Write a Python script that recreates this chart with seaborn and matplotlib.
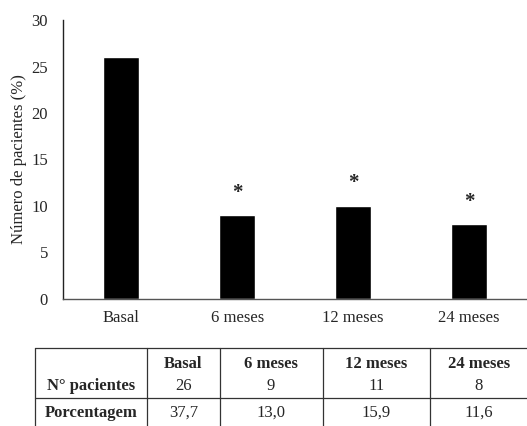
import pandas as pd
import numpy as np
import matplotlib
matplotlib.use('Agg')
import matplotlib.pyplot as plt
from matplotlib.lines import Line2D
import seaborn as sns

# Data
periods = ['Basal', '6 meses', '12 meses', '24 meses']
pacientes_pct = [26, 9, 10, 8]
significant = [False, True, True, True]

# Table below the chart
n_pacientes = ['26', '9', '11', '8']
porcentagem = ['37,7', '13,0', '15,9', '11,6']

df = pd.DataFrame({'periodo': periods, 'valor': pacientes_pct})

sns.set_style('white')
plt.rcParams['font.family'] = ['Liberation Serif', 'DejaVu Serif']

fig = plt.figure(figsize=(5.27, 4.26), dpi=100)
ax = fig.add_axes([0.12, 0.2988, 0.88, 0.654])

sns.barplot(data=df, x='periodo', y='valor', color='black', width=0.31,
            saturation=1, ax=ax)

# asterisks over significant bars
for i, (v, s) in enumerate(zip(pacientes_pct, significant)):
    if s:
        ax.annotate('*', (i, v), xytext=(0, 9), textcoords='offset points',
                    ha='center', va='bottom', fontsize=15, fontweight='bold')

ax.set_xlim(-0.5, 3.5)
ax.set_ylim(0, 30)
ax.set_yticks(range(0, 31, 5))
ax.set_xlabel('')
ax.set_ylabel('Número de pacientes (%)', fontsize=12, labelpad=3)
ax.tick_params(axis='both', length=0, labelsize=12)
ax.tick_params(axis='y', pad=11)
ax.tick_params(axis='x', pad=8)
for side in ['top', 'right']:
    ax.spines[side].set_visible(False)
ax.spines['left'].set_color('#222222')
ax.spines['bottom'].set_color('#555555')
ax.spines['left'].set_linewidth(1)
ax.spines['bottom'].set_linewidth(1)

# table drawn in pixel-based figure coords
W, H = 527.0, 426.0
def fx(px):
    return px / W
def fy(py):
    return 1 - py / H

col_edges = [35, 147, 219.5, 322.7, 430, 528]
top, mid, bottom = 348, 398, 427
lc = '#333333'
fig.add_artist(Line2D([fx(35), fx(528)], [fy(top), fy(top)], color=lc, lw=0.9))
fig.add_artist(Line2D([fx(35), fx(528)], [fy(mid), fy(mid)], color=lc, lw=0.9))
for xe in col_edges[:-1]:
    fig.add_artist(Line2D([fx(xe), fx(xe)], [fy(top), fy(bottom)], color=lc, lw=0.9))

centers = [(col_edges[i] + col_edges[i + 1]) / 2 for i in range(len(col_edges) - 1)]
centers[-1] = 479
fb, fn = 12, 12
fig.text(fx(centers[0]), fy(386.5), 'N° pacientes', ha='center', va='center',
         fontsize=fb, fontweight='bold')
fig.text(fx(centers[0]), fy(413), 'Porcentagem', ha='center', va='center',
         fontsize=fb, fontweight='bold')
for j, p in enumerate(periods):
    cx = fx(centers[j + 1])
    fig.text(cx, fy(364), p, ha='center', va='center', fontsize=fb, fontweight='bold')
    fig.text(cx, fy(386.5), n_pacientes[j], ha='center', va='center', fontsize=fn)
    fig.text(cx, fy(413), porcentagem[j], ha='center', va='center', fontsize=fn)

fig.savefig('out.png', dpi=100)
